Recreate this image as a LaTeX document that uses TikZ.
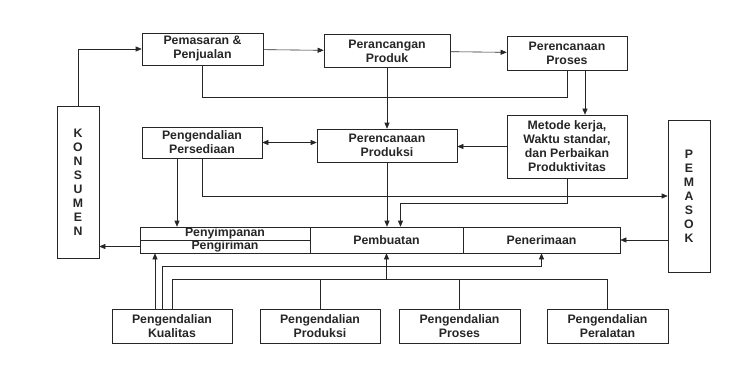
\documentclass[tikz,border=0pt]{standalone}
\usepackage{fontspec}
\setmainfont{Liberation Sans}
\usetikzlibrary{arrows.meta}
\def\kotak{\node[draw,align=center,inner sep=0pt]}
\def\drawpanah{\draw[-{Triangle[length=6pt,width=5pt]}]}
\def\drawdua{\draw[{Triangle[length=6pt,width=5pt]}-{Triangle[length=6pt,width=5pt]}]}
\def\drawgaris{\draw}
\def\tegak{\fontsize{12.3}{14.8}\selectfont}

\begin{document}
\begin{tikzpicture}[x=1pt,y=-1pt,line width=0.6pt,color=black!85,font=\fontsize{12.3}{14}\selectfont\bfseries]
\useasboundingbox (0,0) rectangle (738,377);

% baris atas
\kotak[minimum width=121pt,minimum height=32pt] (pemasaran) at (202.5,49) {Pemasaran \&\\Penjualan};
\kotak[minimum width=126pt,minimum height=33pt] (perancangan) at (387,51) {Perancangan\\Produk};
\kotak[minimum width=120pt,minimum height=34pt] (proses_plan) at (567,53) {Perencanaan\\Proses};

% konsumen dan pemasok di sisi
\kotak[minimum width=42pt,minimum height=152pt] (konsumen) at (78,182) {\tegak K\\O\\N\\S\\U\\M\\E\\N};
\kotak[minimum width=42pt,minimum height=152pt] (pemasok) at (689,196) {\tegak P\\E\\M\\A\\S\\O\\K};

% baris tengah
\kotak[minimum width=120pt,minimum height=31pt] (persediaan) at (202,142.5) {Pengendalian\\Persediaan};
\kotak[minimum width=140pt,minimum height=33pt] (produksi_plan) at (387,145.5) {Perencanaan\\Produksi};
\kotak[minimum width=120pt,minimum height=63pt] (metode) at (567,146.5) {Metode kerja,\\Waktu standar,\\dan Perbaikan\\Produktivitas};

% kotak panjang: penyimpanan, pembuatan, penerimaan
\kotak[minimum width=170pt,minimum height=13pt] (simpan) at (225,233.5) {Penyimpanan};
\kotak[minimum width=170pt,minimum height=13pt] (kirim) at (225,246.5) {Pengiriman};
\kotak[minimum width=153pt,minimum height=26pt] (pembuatan) at (386.5,240) {Pembuatan};
\kotak[minimum width=157pt,minimum height=26pt] (penerimaan) at (541.5,240) {Penerimaan};

% baris bawah: pengendalian
\kotak[minimum width=120pt,minimum height=34pt] (kualitas) at (172,326) {Pengendalian\\Kualitas};
\kotak[minimum width=120pt,minimum height=34pt] (prod_ctrl) at (320,326) {Pengendalian\\Produksi};
\kotak[minimum width=121pt,minimum height=34pt] (proses_ctrl) at (459.5,326) {Pengendalian\\Proses};
\kotak[minimum width=121pt,minimum height=34pt] (peralatan) at (607.5,326) {Pengendalian\\Peralatan};

% aliran atas
\drawpanah (konsumen.north) |- (pemasaran.west);
\drawpanah (pemasaran) -- (perancangan);
\drawpanah (perancangan) -- (proses_plan);
\drawgaris (pemasaran.south) -- ++(0,32) -| (proses_plan.south);
\drawpanah ([xshift=18pt]proses_plan.south) -- ([xshift=18pt]metode.north);
\drawpanah (perancangan.south) -- (produksi_plan.north);

% aliran tengah
\drawpanah (metode.west) -- (metode.west -| produksi_plan.east);
\drawdua (persediaan.east) -- (persediaan.east -| produksi_plan.west);
\drawpanah ([xshift=-25pt]persediaan.south) -- ([xshift=-25pt]persediaan.south |- simpan.north);
\drawpanah (persediaan.south) |- (pemasok.west);
\drawpanah (produksi_plan.south) -- (produksi_plan.south |- pembuatan.north);
\drawpanah (metode.south) -- ++(0,25) -| ([xshift=14pt]pembuatan.north);
\drawpanah (pemasok.west |- penerimaan.east) -- (penerimaan.east);
\drawpanah (kirim.west) -- (kirim.west -| konsumen.east);

% aliran dari pengendalian
\drawpanah ([xshift=-17pt]kualitas.north) -- ([xshift=-17pt]kualitas.north |- kirim.south);
\drawpanah ([xshift=-10pt]kualitas.north) -- ++(0,-42) -| (penerimaan.south);
\drawgaris (kualitas.north) -- ++(0,-29) coordinate (bus_kiri) -| (peralatan.north);
\drawgaris (prod_ctrl.north) -- (prod_ctrl.north |- bus_kiri);
\drawgaris (proses_ctrl.north) -- (proses_ctrl.north |- bus_kiri);
\drawpanah (pembuatan.south |- bus_kiri) -- (pembuatan.south);
\end{tikzpicture}
\end{document}
